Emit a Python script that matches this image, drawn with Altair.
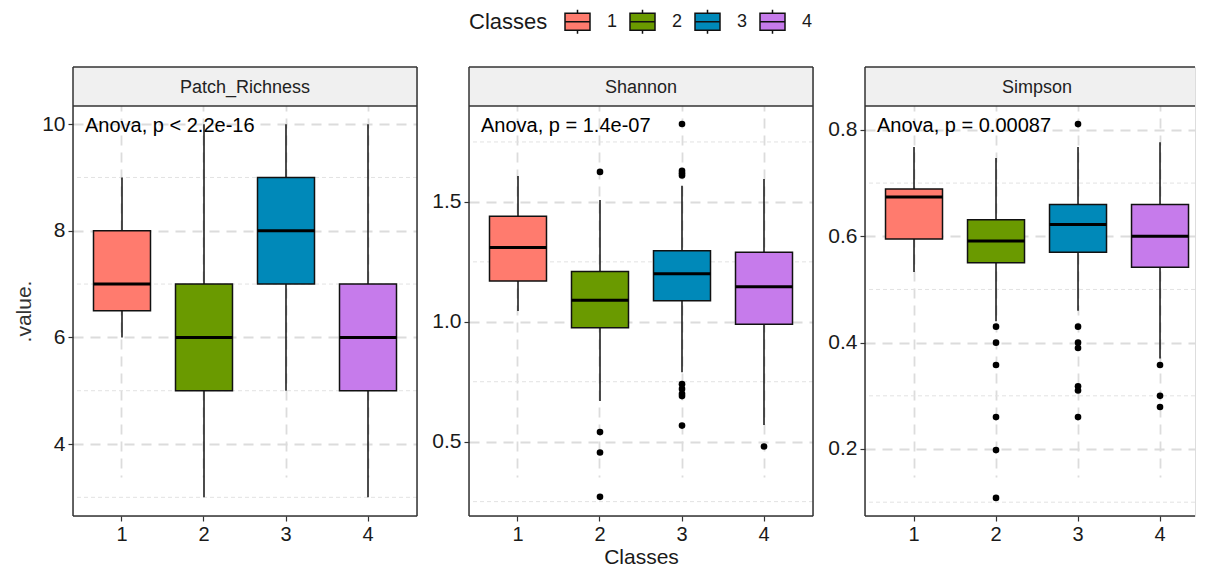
import altair as alt
import pandas as pd

# ---------------- data ----------------
classes = ["1", "2", "3", "4"]
class_colors = ["#FF7B6E", "#6A9A00", "#0089B9", "#C67BEB"]

# Patch_Richness
rich_low = [6, 3, 5, 3]
rich_q1 = [6.5, 5, 7, 5]
rich_med = [7, 6, 8, 6]
rich_q3 = [8, 7, 9, 7]
rich_high = [9, 10, 10, 10]
rich_out_class = []
rich_out_value = []

# Shannon
shan_low = [1.045, 0.67, 0.79, 0.57]
shan_q1 = [1.17, 0.975, 1.088, 0.99]
shan_med = [1.31, 1.09, 1.20, 1.146]
shan_q3 = [1.44, 1.21, 1.296, 1.29]
shan_high = [1.608, 1.508, 1.567, 1.596]
shan_out_class = ["2", "2", "2", "2", "3", "3", "3", "3", "3", "3", "3", "3", "3", "4"]
shan_out_value = [1.625, 0.54, 0.455, 0.27, 1.825, 1.63, 1.62, 1.61, 0.74, 0.72, 0.70, 0.69, 0.567, 0.48]

# Simpson
simp_low = [0.533, 0.44, 0.46, 0.37]
simp_q1 = [0.595, 0.55, 0.57, 0.542]
simp_med = [0.674, 0.591, 0.622, 0.60]
simp_q3 = [0.689, 0.631, 0.66, 0.66]
simp_high = [0.768, 0.747, 0.768, 0.777]
simp_out_class = ["2"] * 6 + ["3"] * 7 + ["4"] * 3
simp_out_value = [0.43, 0.40, 0.358, 0.26, 0.198, 0.108,
                  0.811, 0.43, 0.40, 0.39, 0.318, 0.31, 0.26,
                  0.358, 0.30, 0.279]

panel_names = ["Patch_Richness", "Shannon", "Simpson"]
anova_labels = ["Anova, p < 2.2e-16", "Anova, p = 1.4e-07", "Anova, p = 0.00087"]

rich_ticks = [4, 6, 8, 10]
rich_minor = [3, 5, 7, 9]
shan_ticks = [0.5, 1.0, 1.5]
shan_minor = [0.25, 0.75, 1.25, 1.75]
simp_ticks = [0.2, 0.4, 0.6, 0.8]
simp_minor = [0.1, 0.3, 0.5, 0.7]

rich_domain = [2.65, 10.34]
shan_domain = [0.19, 1.90]
simp_domain = [0.074, 0.845]

# ---------------- layout ----------------
FONT = "Liberation Sans"
H = 449          # panel height incl. strip
STRIP = 39       # strip height
BAND = 344       # full panel width
TEXT = "#1A1A1A"
GRID = "#DCDCDC"

box_path = "M-1,-0.68H1V0.68H-1Z M-1,0H1 M0,-0.68V-0.96 M0,0.68V0.96"


def panel(name, anova, low, q1, med, q3, high, oc, ov, domain, ticks, minor, fmt,
          width, pad_outer, align, show_ytitle, show_xtitle, show_legend,
          right_border=True):
    box = pd.DataFrame({"Classes": classes, "low": low, "q1": q1, "med": med,
                        "q3": q3, "high": high})
    out = pd.DataFrame({"Classes": oc, "value": ov})
    minor_df = pd.DataFrame({"m": minor})
    one = pd.DataFrame({"a": [0]})

    xscale = alt.Scale(domain=classes, paddingInner=0.305, paddingOuter=pad_outer,
                       align=align)
    yscale = alt.Scale(domain=domain, range=[H, STRIP], nice=False, zero=False)
    xaxis = alt.Axis(title="Classes" if show_xtitle else None, labelAngle=0,
                     grid=True, gridColor=GRID, gridWidth=1.8, gridDash=[10, 7],
                     domain=False, ticks=True, tickColor="#333", tickSize=5,
                     tickWidth=1.2, labelFontSize=20, labelColor=TEXT, labelFont=FONT,
                     labelPadding=3, titleFontSize=21, titleFont=FONT,
                     titleFontWeight="normal", titleColor=TEXT, titlePadding=2)
    yaxis = alt.Axis(title=".value." if show_ytitle else None, values=ticks, format=fmt,
                     grid=True, gridColor=GRID, gridWidth=1.8, gridDash=[10, 7],
                     domain=False, ticks=True, tickColor="#333", tickSize=5,
                     tickWidth=1.2, labelFontSize=21, labelColor=TEXT, labelFont=FONT,
                     labelPadding=3, labelFlush=False, titleFontSize=21, titleFont=FONT,
                     titleFontWeight="normal", titleColor="#333", titlePadding=7)

    X = alt.X("Classes:N", scale=xscale, axis=xaxis)

    minor_rules = alt.Chart(minor_df).mark_rule(
        color="#E2E2E2", strokeWidth=1, strokeDash=[4, 3]
    ).encode(y=alt.Y("m:Q", scale=yscale, axis=yaxis))

    whisk = alt.Chart(box).mark_rule(color="#111", strokeWidth=1.5).encode(
        x=X, y=alt.Y("low:Q", scale=yscale, axis=yaxis), y2="high:Q")

    if show_legend:
        leg = alt.Legend(orient="none", legendX=396, legendY=-59, direction="horizontal",
                         padding=0, title="Classes", titleOrient="left", titleFontSize=22,
                         titleFont=FONT, titleFontWeight="normal", titleColor=TEXT,
                         titlePadding=16, titleBaseline="middle",
                         symbolType=box_path, symbolSize=625, symbolStrokeColor="#111",
                         symbolStrokeWidth=1.5, labelFontSize=18, labelFont=FONT,
                         labelColor=TEXT, labelOffset=16, columnPadding=9)
    else:
        leg = None
    boxes = alt.Chart(box).mark_bar(stroke="#111", strokeWidth=1.5).encode(
        x=X, y=alt.Y("q1:Q", scale=yscale, axis=yaxis), y2="q3:Q",
        fill=alt.Fill("Classes:N", scale=alt.Scale(domain=classes, range=class_colors),
                      legend=leg))

    medians = alt.Chart(box).mark_tick(color="#000", thickness=3, size=57, opacity=1).encode(
        x=X, y=alt.Y("med:Q", scale=yscale, axis=yaxis))

    layers = [minor_rules, whisk, boxes, medians]
    if len(ov) > 0:
        pts = alt.Chart(out).mark_circle(color="#000", size=44, opacity=1).encode(
            x=X, y=alt.Y("value:Q", scale=yscale, axis=yaxis))
        layers.append(pts)

    strip = alt.Chart(one).mark_rect(fill="#F0F0F0", strokeWidth=0).encode(
        x=alt.value(0), x2=alt.value(width), y=alt.value(0), y2=alt.value(STRIP))
    strip_txt = alt.Chart(one).mark_text(text=name, fontSize=18, font=FONT, color="#222",
                                         align="center", baseline="middle").encode(
        x=alt.value(BAND / 2), y=alt.value(STRIP / 2 + 1))
    anova_txt = alt.Chart(one).mark_text(text=anova, fontSize=20, font=FONT, color="#000",
                                         align="left", baseline="middle").encode(
        x=alt.value(12), y=alt.value(59))

    bc = "#333"
    left_b = alt.Chart(one).mark_rule(color=bc, strokeWidth=1.5).encode(
        x=alt.value(0), y=alt.value(0), y2=alt.value(H))
    top_b = alt.Chart(one).mark_rule(color=bc, strokeWidth=1.5).encode(
        x=alt.value(0), x2=alt.value(width), y=alt.value(0))
    strip_b = alt.Chart(one).mark_rule(color=bc, strokeWidth=1.5).encode(
        x=alt.value(0), x2=alt.value(width), y=alt.value(STRIP))
    bot_b = alt.Chart(one).mark_rule(color=bc, strokeWidth=1.5).encode(
        x=alt.value(0), x2=alt.value(width), y=alt.value(H))
    layers += [strip, strip_txt, anova_txt, left_b, top_b, strip_b, bot_b]
    if right_border:
        right_b = alt.Chart(one).mark_rule(color=bc, strokeWidth=1.5).encode(
            x=alt.value(width), y=alt.value(0), y2=alt.value(H))
        layers.append(right_b)

    return alt.layer(*layers).properties(width=width, height=H)


p1 = panel(panel_names[0], anova_labels[0], rich_low, rich_q1, rich_med, rich_q3, rich_high,
           rich_out_class, rich_out_value, rich_domain, rich_ticks, rich_minor, "d",
           BAND, 0.25, 0.5, True, False, True)
p2 = panel(panel_names[1], anova_labels[1], shan_low, shan_q1, shan_med, shan_q3, shan_high,
           shan_out_class, shan_out_value, shan_domain, shan_ticks, shan_minor, ".1f",
           BAND, 0.25, 0.5, False, True, False)
# last panel is cut off at the right edge of the picture: narrower view, same band step
p3 = panel(panel_names[2], anova_labels[2], simp_low, simp_q1, simp_med, simp_q3, simp_high,
           simp_out_class, simp_out_value, simp_domain, simp_ticks, simp_minor, ".1f",
           330, 0.1646, 0.76, False, False, False, right_border=False)

chart = alt.hconcat(p1, p2, p3, spacing=52, bounds="flush").resolve_scale(
    y="independent"
).properties(
    padding={"left": 5, "top": 0, "right": 0, "bottom": 0}
).configure_view(stroke=None).configure(font=FONT, background="white")

chart.save("out.html", embed_options={"renderer": "svg", "actions": False})
